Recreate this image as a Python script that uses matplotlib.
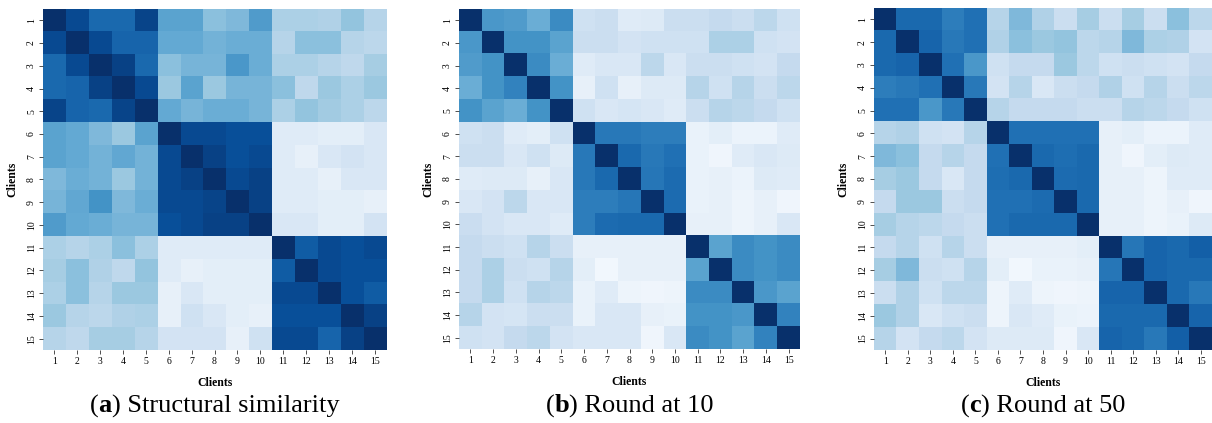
import numpy as np
import matplotlib
matplotlib.use("Agg")
import matplotlib.pyplot as plt
import matplotlib.offsetbox as ob

clients = [str(i) for i in range(1, 16)]

structural = [
    [1.0, 0.9, 0.78, 0.78, 0.92, 0.55, 0.55, 0.42, 0.45, 0.58, 0.33, 0.33, 0.32, 0.4, 0.3],
    [0.9, 1.0, 0.9, 0.8, 0.8, 0.52, 0.52, 0.48, 0.5, 0.5, 0.3, 0.42, 0.42, 0.3, 0.28],
    [0.78, 0.9, 1.0, 0.93, 0.78, 0.42, 0.47, 0.47, 0.6, 0.5, 0.33, 0.33, 0.3, 0.27, 0.35],
    [0.78, 0.8, 0.93, 1.0, 0.9, 0.38, 0.55, 0.38, 0.47, 0.47, 0.42, 0.27, 0.38, 0.33, 0.38],
    [0.92, 0.8, 0.78, 0.92, 1.0, 0.52, 0.47, 0.5, 0.5, 0.47, 0.33, 0.4, 0.36, 0.33, 0.28],
    [0.55, 0.52, 0.45, 0.38, 0.55, 1.0, 0.9, 0.9, 0.88, 0.88, 0.12, 0.12, 0.1, 0.1, 0.15],
    [0.55, 0.52, 0.48, 0.53, 0.48, 0.9, 1.0, 0.93, 0.88, 0.9, 0.12, 0.08, 0.15, 0.18, 0.15],
    [0.45, 0.5, 0.48, 0.38, 0.48, 0.9, 0.93, 1.0, 0.9, 0.93, 0.12, 0.12, 0.08, 0.15, 0.15],
    [0.47, 0.53, 0.62, 0.45, 0.5, 0.9, 0.9, 0.92, 1.0, 0.93, 0.12, 0.12, 0.1, 0.1, 0.08],
    [0.58, 0.52, 0.5, 0.47, 0.47, 0.88, 0.9, 0.93, 0.93, 1.0, 0.15, 0.15, 0.1, 0.1, 0.18],
    [0.33, 0.3, 0.33, 0.42, 0.33, 0.12, 0.12, 0.12, 0.12, 0.12, 1.0, 0.83, 0.9, 0.88, 0.9],
    [0.35, 0.42, 0.32, 0.27, 0.4, 0.12, 0.08, 0.1, 0.1, 0.1, 0.83, 1.0, 0.9, 0.88, 0.88],
    [0.33, 0.42, 0.3, 0.38, 0.38, 0.08, 0.15, 0.1, 0.1, 0.1, 0.9, 0.9, 1.0, 0.88, 0.83],
    [0.38, 0.3, 0.28, 0.32, 0.33, 0.08, 0.2, 0.15, 0.1, 0.08, 0.88, 0.88, 0.88, 1.0, 0.93],
    [0.3, 0.27, 0.35, 0.35, 0.3, 0.18, 0.18, 0.18, 0.08, 0.2, 0.9, 0.9, 0.8, 0.93, 1.0],
]

round10 = [
    [1.0, 0.6, 0.58, 0.5, 0.65, 0.2, 0.22, 0.12, 0.13, 0.22, 0.22, 0.25, 0.22, 0.28, 0.2],
    [0.6, 1.0, 0.62, 0.62, 0.55, 0.22, 0.22, 0.18, 0.2, 0.2, 0.2, 0.33, 0.33, 0.2, 0.18],
    [0.58, 0.62, 1.0, 0.65, 0.5, 0.12, 0.15, 0.15, 0.28, 0.15, 0.22, 0.22, 0.2, 0.18, 0.25],
    [0.5, 0.62, 0.68, 1.0, 0.62, 0.08, 0.2, 0.08, 0.13, 0.13, 0.3, 0.2, 0.3, 0.22, 0.28],
    [0.62, 0.55, 0.5, 0.62, 1.0, 0.2, 0.15, 0.17, 0.15, 0.12, 0.22, 0.3, 0.28, 0.25, 0.2],
    [0.2, 0.22, 0.12, 0.1, 0.2, 1.0, 0.72, 0.72, 0.7, 0.7, 0.07, 0.1, 0.06, 0.06, 0.12],
    [0.22, 0.22, 0.15, 0.2, 0.13, 0.72, 1.0, 0.78, 0.72, 0.75, 0.07, 0.04, 0.12, 0.15, 0.13],
    [0.12, 0.13, 0.13, 0.08, 0.15, 0.72, 0.78, 1.0, 0.73, 0.77, 0.07, 0.08, 0.06, 0.13, 0.12],
    [0.15, 0.18, 0.28, 0.15, 0.15, 0.7, 0.7, 0.73, 1.0, 0.77, 0.07, 0.08, 0.05, 0.08, 0.04],
    [0.23, 0.18, 0.15, 0.15, 0.12, 0.7, 0.77, 0.78, 0.78, 1.0, 0.08, 0.08, 0.05, 0.08, 0.15],
    [0.25, 0.22, 0.2, 0.3, 0.22, 0.08, 0.08, 0.08, 0.08, 0.08, 1.0, 0.55, 0.65, 0.62, 0.65],
    [0.25, 0.33, 0.22, 0.2, 0.3, 0.1, 0.03, 0.08, 0.08, 0.08, 0.55, 1.0, 0.65, 0.62, 0.65],
    [0.25, 0.33, 0.2, 0.3, 0.28, 0.07, 0.12, 0.05, 0.04, 0.05, 0.65, 0.65, 1.0, 0.6, 0.55],
    [0.3, 0.18, 0.17, 0.22, 0.22, 0.07, 0.15, 0.15, 0.08, 0.07, 0.62, 0.62, 0.6, 1.0, 0.68],
    [0.2, 0.18, 0.25, 0.28, 0.18, 0.15, 0.15, 0.15, 0.04, 0.15, 0.65, 0.62, 0.55, 0.68, 1.0],
]

round50 = [
    [1.0, 0.78, 0.78, 0.7, 0.75, 0.3, 0.45, 0.32, 0.22, 0.35, 0.22, 0.35, 0.22, 0.42, 0.28],
    [0.78, 1.0, 0.8, 0.72, 0.75, 0.32, 0.42, 0.38, 0.4, 0.28, 0.3, 0.45, 0.33, 0.32, 0.18],
    [0.78, 0.8, 1.0, 0.75, 0.6, 0.2, 0.25, 0.25, 0.38, 0.28, 0.2, 0.22, 0.2, 0.18, 0.25],
    [0.7, 0.72, 0.75, 1.0, 0.72, 0.18, 0.3, 0.15, 0.22, 0.25, 0.32, 0.2, 0.3, 0.22, 0.28],
    [0.75, 0.75, 0.6, 0.72, 1.0, 0.3, 0.25, 0.25, 0.25, 0.22, 0.22, 0.3, 0.28, 0.25, 0.2],
    [0.3, 0.32, 0.2, 0.18, 0.3, 1.0, 0.75, 0.75, 0.75, 0.75, 0.08, 0.1, 0.06, 0.06, 0.12],
    [0.45, 0.42, 0.25, 0.3, 0.25, 0.75, 1.0, 0.78, 0.76, 0.78, 0.08, 0.04, 0.1, 0.13, 0.12],
    [0.35, 0.38, 0.25, 0.15, 0.25, 0.76, 0.78, 1.0, 0.77, 0.78, 0.08, 0.08, 0.05, 0.12, 0.12],
    [0.25, 0.38, 0.38, 0.22, 0.25, 0.75, 0.75, 0.77, 1.0, 0.78, 0.08, 0.08, 0.05, 0.08, 0.04],
    [0.35, 0.3, 0.28, 0.25, 0.22, 0.75, 0.78, 0.78, 0.78, 1.0, 0.08, 0.08, 0.05, 0.07, 0.13],
    [0.25, 0.3, 0.2, 0.3, 0.22, 0.08, 0.08, 0.08, 0.08, 0.1, 1.0, 0.73, 0.8, 0.78, 0.82],
    [0.35, 0.45, 0.22, 0.2, 0.3, 0.1, 0.03, 0.07, 0.07, 0.08, 0.73, 1.0, 0.8, 0.78, 0.78],
    [0.22, 0.32, 0.2, 0.28, 0.28, 0.05, 0.12, 0.05, 0.04, 0.05, 0.8, 0.8, 1.0, 0.78, 0.72],
    [0.38, 0.32, 0.15, 0.2, 0.22, 0.05, 0.15, 0.12, 0.07, 0.06, 0.78, 0.78, 0.78, 1.0, 0.8],
    [0.3, 0.18, 0.25, 0.28, 0.18, 0.13, 0.13, 0.13, 0.04, 0.15, 0.8, 0.78, 0.72, 0.82, 1.0],
]

subcaps = [("a", " Structural similarity"), ("b", " Round at 10"), ("c", " Round at 50")]
matrices = [structural, round10, round50]

plt.rcParams['font.family'] = ['Liberation Serif', 'DejaVu Serif']

fig = plt.figure(figsize=(12.12, 4.23), dpi=100)
W, H = 1212, 423
boxes = [(43, 9, 386, 350), (459, 9, 800, 349), (874, 8, 1212, 350)]

for (x0, y0, x1, y1), mat, (letter, rest) in zip(boxes, matrices, subcaps):
    ax = fig.add_axes([x0 / W, 1 - y1 / H, (x1 - x0) / W, (y1 - y0) / H])
    data = np.array(mat)
    ax.imshow(data, cmap='Blues', vmin=0, vmax=1, aspect='auto', interpolation='nearest')
    ax.set_xticks(range(15))
    ax.set_yticks(range(15))
    ax.set_xticklabels(clients, fontsize=7)
    ax.set_yticklabels(clients, fontsize=7, rotation=90, va='center')
    ax.tick_params(length=3, width=0.6, color='#333333', pad=2)
    for s in ax.spines.values():
        s.set_visible(False)
    ax.set_xlabel('Clients', fontsize=8.5, fontweight='bold', labelpad=8)
    ax.set_ylabel('Clients', fontsize=8.5, fontweight='bold', labelpad=6)
    cx = ((x0 + x1) / 2) / W
    txt = ob.HPacker(children=[
        ob.TextArea("(", textprops=dict(fontsize=19, family='Liberation Serif')),
        ob.TextArea(letter, textprops=dict(fontsize=19, family='Liberation Serif', fontweight='bold')),
        ob.TextArea(")" + rest, textprops=dict(fontsize=19, family='Liberation Serif')),
    ], align='baseline', pad=0, sep=0)
    ab = ob.AnchoredOffsetbox(loc='center', child=txt, pad=0, frameon=False,
                              bbox_to_anchor=(cx, 1 - 406 / H), bbox_transform=fig.transFigure,
                              borderpad=0)
    fig.add_artist(ab)

fig.savefig('out.png', dpi=100)
